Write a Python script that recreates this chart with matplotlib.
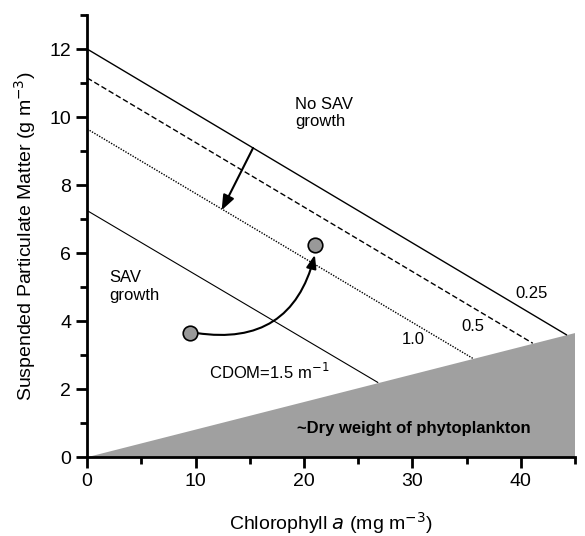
import matplotlib.pyplot as plt
from matplotlib.ticker import MultipleLocator

plt.rcParams['font.family'] = ['Liberation Sans', 'DejaVu Sans']

# CDOM isolines (Chl a, SPM)
x_025 = [0, 44.2]
y_025 = [12.0, 3.6]
x_05 = [0, 41.1]
y_05 = [11.15, 3.35]
x_10 = [0, 35.6]
y_10 = [9.65, 2.9]
x_15 = [0, 26.8]
y_15 = [7.25, 2.2]

# phytoplankton dry weight wedge
dry_x = [0, 45, 45]
dry_y = [0, 3.65, 0]

# trajectory points
pts_x = [9.5, 21.0]
pts_y = [3.65, 6.25]

fig = plt.figure(figsize=(5.85, 5.36), dpi=100)
ax = fig.add_axes([0.149, 0.147, 0.834, 0.825])

ax.fill(dry_x, dry_y, color='#a0a0a0', lw=0, zorder=1)
ax.plot(x_025, y_025, color='black', lw=1.0)
ax.plot(x_05, y_05, color='black', lw=1.0, ls=(0, (4, 2)))
ax.plot(x_10, y_10, color='black', lw=1.0, ls=(0, (1, 1)))
ax.plot(x_15, y_15, color='black', lw=0.8)

# shift arrow
ax.annotate('', xy=(12.4, 7.26), xytext=(15.3, 9.09),
            arrowprops=dict(arrowstyle='-|>,head_length=0.9,head_width=0.35',
                            color='black', lw=1.5, shrinkA=0, shrinkB=0))
# trajectory arrow
ax.annotate('', xy=(21.0, 5.95), xytext=(10.1, 3.65),
            arrowprops=dict(arrowstyle='-|>,head_length=0.8,head_width=0.3',
                            color='black', lw=1.5, shrinkA=0, shrinkB=0,
                            connectionstyle='arc3,rad=0.45'))
ax.scatter(pts_x, pts_y, s=110, facecolor='#999999', edgecolor='black',
           lw=1.2, zorder=5)

ax.text(19.2, 10.6, 'No SAV\ngrowth', fontsize=12, va='top')
ax.text(2.0, 5.5, 'SAV\ngrowth', fontsize=12, va='top')
ax.text(11.2, 2.5, 'CDOM=1.5 m$^{-1}$', fontsize=12, va='center')
ax.text(30.1, 3.45, '1.0', fontsize=12, va='center', ha='center')
ax.text(35.6, 3.85, '0.5', fontsize=12, va='center', ha='center')
ax.text(41.0, 4.8, '0.25', fontsize=12, va='center', ha='center')
ax.text(30.1, 0.85, '~Dry weight of phytoplankton', fontsize=12,
        fontweight='bold', va='center', ha='center')

ax.set_xlim(0, 45)
ax.set_ylim(0, 13)
ax.xaxis.set_major_locator(MultipleLocator(10))
ax.xaxis.set_minor_locator(MultipleLocator(5))
ax.yaxis.set_major_locator(MultipleLocator(2))
ax.yaxis.set_minor_locator(MultipleLocator(1))
for s in ['top', 'right']:
    ax.spines[s].set_visible(False)
for s in ['left', 'bottom']:
    ax.spines[s].set_linewidth(2)
ax.tick_params(which='major', length=8, width=2, labelsize=14)
ax.tick_params(which='minor', length=5, width=2)

ax.set_xlabel('Chlorophyll $a$ (mg m$^{-3}$)', fontsize=14, labelpad=14)
ax.set_ylabel('Suspended Particulate Matter (g m$^{-3}$)', fontsize=14,
              labelpad=8)

fig.savefig('out.png')
